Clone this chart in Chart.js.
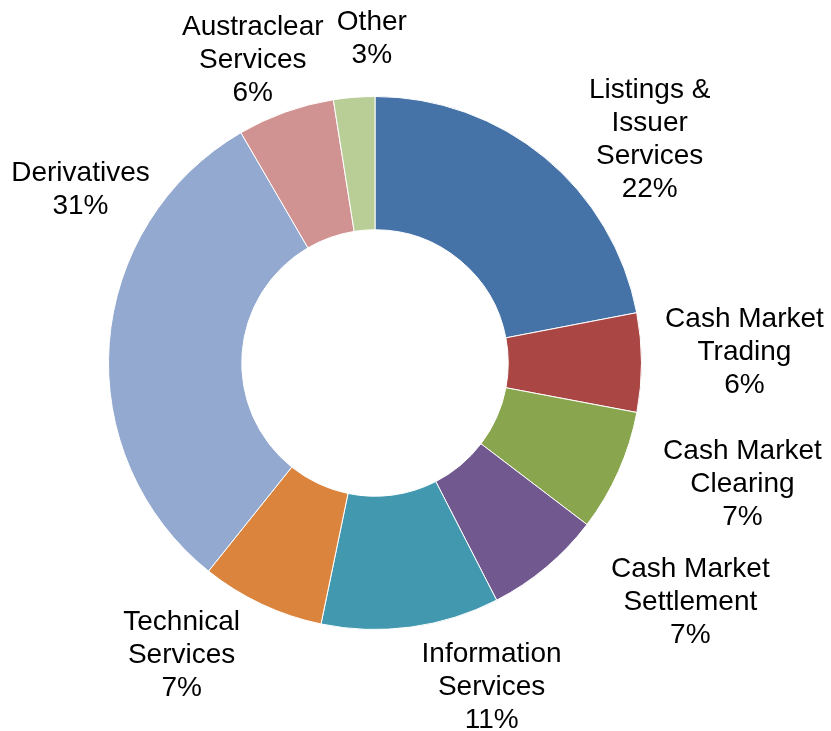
<!DOCTYPE html>
<html lang="en">
<head>
    <meta charset="UTF-8">
    <title>Revenue by Business</title>
    <script src="https://cdn.jsdelivr.net/npm/chart.js@4/dist/chart.umd.min.js"></script>
    <style>
        body { margin: 0; background: #fff; }
        canvas { display: block; }
    </style>
</head>
<body>
    <canvas id="myChart" width="831" height="731"></canvas>
    <script>
        // segment names (one entry per line of the label)
        var categories = [
            ['Listings &', 'Issuer', 'Services'],
            ['Cash Market', 'Trading'],
            ['Cash Market', 'Clearing'],
            ['Cash Market', 'Settlement'],
            ['Information', 'Services'],
            ['Technical', 'Services'],
            ['Derivatives'],
            ['Austraclear', 'Services'],
            ['Other']
        ];
        // share of revenue
        var shares = [22.0, 6.0, 7.4, 7.1, 10.8, 7.5, 30.9, 5.9, 2.5];
        // percentages as printed on the chart
        var pctLabels = ['22%', '6%', '7%', '7%', '11%', '7%', '31%', '6%', '3%'];

        var colors = ['#4572A7', '#AA4643', '#89A54E', '#71588F', '#4198AF',
                      '#DB843D', '#93A9CF', '#D19392', '#B9CD96'];

        // hand tweaks so labels sit where the original has them
        var labelNudge = [[54, 44], [23, -10], [51, -20], [93, -26], [70, -19],
                          [-46, -21], [51, -148], [-6, 24], [24, 21]];

        var outsideLabels = {
            id: 'outsideLabels',
            afterDatasetsDraw: function (chart) {
                var ctx = chart.ctx;
                var arcs = chart.getDatasetMeta(0).data;
                ctx.save();
                ctx.font = '28px "Liberation Sans", Arial, sans-serif';
                ctx.fillStyle = '#000';
                ctx.textAlign = 'center';
                ctx.textBaseline = 'middle';
                var lineH = 33;
                arcs.forEach(function (arc, i) {
                    var p = arc.getProps(['x', 'y', 'startAngle', 'endAngle', 'outerRadius'], true);
                    var mid = (p.startAngle + p.endAngle) / 2;
                    var r = p.outerRadius * 1.3;
                    var cx = p.x + Math.cos(mid) * r + labelNudge[i][0];
                    var cy = p.y + Math.sin(mid) * r + labelNudge[i][1];
                    var lines = categories[i].concat([pctLabels[i]]);
                    var top = cy - (lines.length - 1) * lineH / 2;
                    lines.forEach(function (t, k) {
                        ctx.fillText(t, cx, top + k * lineH);
                    });
                });
                ctx.restore();
            }
        };

        var ctx = document.getElementById('myChart').getContext('2d');
        var myChart = new Chart(ctx, {
            type: 'doughnut',
            data: {
                labels: categories.map(function (c) { return c.join(' '); }),
                datasets: [{
                    data: shares,
                    backgroundColor: colors,
                    borderColor: '#ffffff',
                    borderWidth: 1
                }]
            },
            options: {
                responsive: false,
                animation: false,
                cutout: '50%',
                layout: {
                    padding: { left: 108, top: 96, right: 189, bottom: 101 }
                },
                plugins: {
                    legend: { display: false },
                    tooltip: { enabled: false }
                }
            },
            plugins: [outsideLabels]
        });
    </script>
</body>
</html>
